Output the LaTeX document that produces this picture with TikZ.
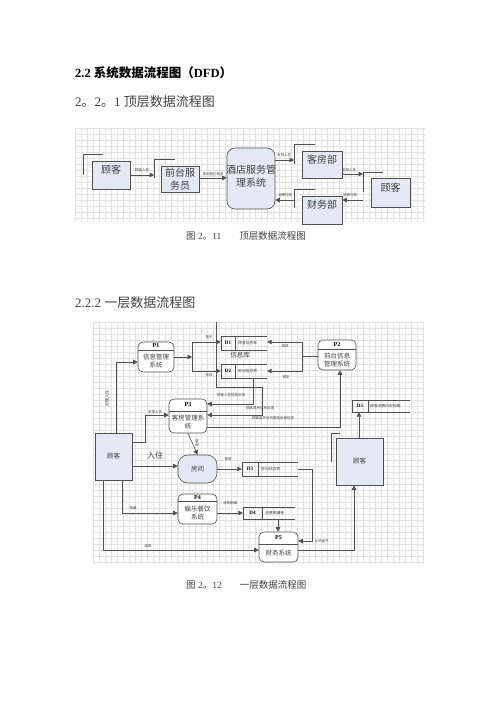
\documentclass[tikz,border=0pt]{standalone}
\usepackage{fontspec}
\setmainfont{Liberation Serif}
\newfontfamily\cjk{Noto Sans CJK SC}
\usetikzlibrary{arrows.meta,calc}
\definecolor{boxblue}{HTML}{E4E9F5}
\definecolor{gridc}{HTML}{E2E2E2}
\definecolor{linec}{HTML}{505050}
\definecolor{txtg}{HTML}{404040}
\begin{document}
\begin{tikzpicture}[x=1pt,y=-1pt,
 ent/.style={draw=linec, fill=boxblue, line width=0.6pt, inner sep=0pt, align=center},
 procbox/.style={draw=linec, fill=white, line width=0.6pt, rounded corners=5pt, inner sep=0pt},
 dsanchor/.style={inner sep=0pt, draw=none},
 ds/.style={draw=linec, line width=0.5pt},
 shadowl/.style={draw=linec, line width=0.6pt},
 flow/.style={draw=linec, line width=0.6pt, -{Triangle[length=4.5pt,width=4.5pt]}},
 tiny/.style={font=\cjk\fontsize{3.5}{4}\selectfont, text=txtg, inner sep=0.5pt},
 big/.style={font=\cjk\fontsize{10}{12.5}\selectfont, text=txtg, align=center, inner sep=0pt},
 mid/.style={font=\cjk\fontsize{6.5}{8}\selectfont, text=txtg, align=center, inner sep=0pt},
 pid/.style={font=\bfseries\fontsize{6}{7}\selectfont, inner sep=0pt},
 dsid/.style={font=\bfseries\fontsize{5}{6}\selectfont, inner sep=0pt},
 dstxt/.style={font=\cjk\fontsize{3.8}{4.5}\selectfont, text=txtg, inner sep=0pt, anchor=west}
]
\useasboundingbox (0,0) rectangle (496,702);
\fill[white] (0,0) rectangle (496,702);

% ---------- headings ----------
\node[anchor=west, inner sep=0pt, font=\bfseries\fontsize{12.5}{14}\selectfont] (h1) at (75,73) {2.2 {\cjk 系统数据流程图（}DFD{\cjk ）}};
\node[anchor=west, inner sep=0pt, font=\fontsize{13}{15}\selectfont, text=txtg] (h2) at (75,102) {2{\cjk 。}2{\cjk 。}1 {\cjk 顶层数据流程图}};
\node[anchor=west, inner sep=0pt, font=\fontsize{9.5}{11}\selectfont, text=txtg] (c1) at (186,236) {{\cjk 图} 2{\cjk 。}11\hspace{18pt}{\cjk 顶层数据流程图}};
\node[anchor=west, inner sep=0pt, font=\fontsize{13}{15}\selectfont, text=txtg] (h3) at (75,303) {2.2.2 {\cjk 一层数据流程图}};
\node[anchor=west, inner sep=0pt, font=\fontsize{9.5}{11}\selectfont, text=txtg] (c2) at (186,585) {{\cjk 图} 2{\cjk 。}12\hspace{18pt}{\cjk 一层数据流程图}};

% ---------- grids ----------
\foreach \x in {75,81,...,425} \draw[gridc, line width=0.3pt] (\x,128) -- (\x,222);
\foreach \y in {128,134,...,222} \draw[gridc, line width=0.3pt] (75,\y) -- (425,\y);
\foreach \x in {93,99,...,423} \draw[gridc, line width=0.3pt] (\x,322) -- (\x,564);
\foreach \y in {322,328,...,564} \draw[gridc, line width=0.3pt] (93,\y) -- (423,\y);

% ---------- top diagram ----------
\node[ent, minimum width=38pt, minimum height=28pt] (gk1) at (111,175) {};
\node[big] (gk1t) at (111,170) {顾客};
\node[ent, minimum width=38pt, minimum height=26pt] (qt) at (180,179) {};
\node[big] (qtt) at (180,179) {前台服\\务员};
\node[ent, rounded corners=8pt, minimum width=48pt, minimum height=61pt] (sys) at (251,178.5) {};
\node[big] (syst) at (251,176) {酒店服务管\\理系统};
\node[ent, minimum width=40pt, minimum height=27pt] (kf) at (322,164.5) {};
\node[big] (kft) at (322,160) {客房部};
\node[ent, minimum width=40pt, minimum height=28pt] (cw) at (322,210) {};
\node[big] (cwt) at (322,205) {财务部};
\node[ent, minimum width=39pt, minimum height=29pt] (gk2) at (390.5,192.5) {};
\node[big] (gk2t) at (390.5,188) {顾客};

% entity marker lines
\draw[shadowl] (103,154) -- (83,154) -- (83,175);
\draw[shadowl] (175,159) -- (154,159) -- (154,178);
\draw[shadowl] (315,144) -- (294,144) -- (294,164);
\draw[shadowl] (315,189) -- (294,189) -- (294,208);
\draw[shadowl] (383,172) -- (363,172) -- (363,192);

\coordinate (qtin) at (154,175);
\coordinate (kfin) at (294,160);
\coordinate (cwout) at (294,200);
\coordinate (gk2in) at (363,174);
\coordinate (gk2out) at (363,200);

\draw[flow] (gk1.east |- qtin) -- (qtin);
\node[tiny] (l1) at (142,170) {顾客入住};
\draw[flow] (qt.east |- 0,178) -- (sys.west |- 0,178);
\node[tiny] (l2) at (213,174) {查询登记信息};
\draw[flow] (sys.east |- kfin) -- (kfin);
\node[tiny] (l3) at (284,155) {安排入住};
\draw[flow] (kf.east |- gk2in) -- (gk2in);
\node[tiny] (l4) at (349,170) {安排入住};
\draw[flow] (gk2out) -- (cw.east |- gk2out);
\node[tiny] (l5) at (350,195) {消费付款};
\draw[flow] (cwout) -- (sys.east |- cwout);
\node[tiny] (l6) at (285,195) {消费付款};

% ---------- bottom diagram ----------
% process boxes
\node[procbox, minimum width=36pt, minimum height=30pt] (P1) at (156,357) {};
\draw[linec, line width=0.5pt] (138,350) -- (174,350);
\node[pid] (P1i) at (156,346) {P1};
\node[mid] (P1t) at (156,361) {信息管理\\系统};

\node[procbox, minimum width=38pt, minimum height=30pt] (P2) at (337,355) {};
\draw[linec, line width=0.5pt] (318,349) -- (356,349);
\node[pid] (P2i) at (337,344.5) {P2};
\node[mid] (P2t) at (337,360) {前台信息\\管理系统};

\node[procbox, minimum width=38pt, minimum height=34pt] (P3) at (188,416) {};
\draw[linec, line width=0.5pt] (169,411) -- (207,411);
\node[pid] (P3i) at (188,405) {P3};
\node[mid] (P3t) at (188,422) {客房管理系\\统};

\node[procbox, minimum width=39pt, minimum height=30pt] (P4) at (197.5,509) {};
\draw[linec, line width=0.5pt] (178,501) -- (217,501);
\node[pid] (P4i) at (197.5,497.5) {P4};
\node[mid] (P4t) at (197.5,513) {娱乐餐饮\\系统};

\node[procbox, minimum width=39pt, minimum height=30pt] (P5) at (278.5,547) {};
\draw[linec, line width=0.5pt] (259,544) -- (298,544);
\node[pid] (P5i) at (278.5,538) {P5};
\node[mid] (P5t) at (278.5,553) {财务系统};

\node[ent, rounded corners=10pt, minimum width=39pt, minimum height=28pt] (room) at (197.5,469) {};
\node[mid] (roomt) at (197.5,469) {房间};

\node[ent, minimum width=37pt, minimum height=47pt] (gkL) at (113.5,456.5) {};
\node[mid] (gkLt) at (113.5,456.5) {顾客};
\node[ent, minimum width=47pt, minimum height=47pt] (gkR) at (359.5,461.5) {};
\node[mid] (gkRt) at (359.5,461.5) {顾客};
\draw[shadowl] (340,433) -- (331,433) -- (331,462);

% data stores
\node[dsanchor, minimum width=46pt, minimum height=14pt] (D1) at (244,343) {};
\draw[ds] (267,336) -- (221,336) -- (221,350) -- (267,350) (235,336) -- (235,350);
\node[dsid] (D1i) at (228,343) {D1};
\node[dstxt] (D1t) at (238,343) {顾客信息单};

\node[dsanchor, minimum width=46pt, minimum height=14pt] (D2) at (244,371) {};
\draw[ds] (267,364) -- (221,364) -- (221,378) -- (267,378) (235,364) -- (235,378);
\node[dsid] (D2i) at (228,371) {D2};
\node[dstxt] (D2t) at (238,371) {房间信息表};

\node[mid, font=\cjk\fontsize{6.5}{8}\selectfont] (lib) at (240,355) {信息库};

\node[dsanchor, minimum width=56pt, minimum height=14pt] (D3) at (270,469) {};
\draw[ds] (298,462) -- (242,462) -- (242,476) -- (298,476) (258,462) -- (258,476);
\node[dsid] (D3i) at (250,469) {D3};
\node[dstxt] (D3t) at (261,469) {房间状态表};

\node[dsanchor, minimum width=52pt, minimum height=12pt] (D4) at (269,513) {};
\draw[ds] (295,507) -- (243,507) -- (243,519) -- (295,519) (262,507) -- (262,519);
\node[dsid] (D4i) at (252.5,513) {D4};
\node[dstxt] (D4t) at (265,513) {消费明细单};

\node[dsanchor, minimum width=58pt, minimum height=12pt] (D5) at (381,406) {};
\draw[ds] (410,400) -- (352,400) -- (352,412) -- (410,412) (368,400) -- (368,412);
\node[dsid] (D5i) at (360,406) {D5};
\node[dstxt] (D5t) at (370,406) {顾客消费历史档案};

% container of the information base
\draw[shadowl, line width=0.5pt] (216,322) -- (216,387) -- (262,387);

% flows
\draw[flow] (gkL.north -| 116,0) -- (116,362) -- (P1.west |- 0,362);
\node[tiny, rotate=90, font=\cjk\fontsize{4}{5}\selectfont] (lbz) at (107,398) {办理入住};

\coordinate (fk1) at (192,357);
\draw[flow] (P1.east |- fk1) -- (fk1);
\draw[flow] (192,342) -- (D1.west |- 0,342);
\draw[flow] (192,342) -- (192,371) -- (D2.west |- 0,371);
\node[tiny] (ldj) at (209,337) {登记};
\node[tiny] (lxg) at (209,375) {修改};

\coordinate (fk2) at (302,356);
\draw[linec, line width=0.6pt] (P2.west |- fk2) -- (fk2);
\draw[flow] (302,356) -- (302,342) -- (D1.east |- 0,342);
\draw[flow] (302,356) -- (302,371) -- (D2.east |- 0,371);
\node[tiny] (lxg2) at (285,346) {修改};
\node[tiny] (lyd) at (286,377) {预定};

\draw[flow] (253,378) -- (253,404) -- (P3.east |- 0,404);
\node[tiny] (lrz) at (231,395) {顾客入住信息反馈};
\draw[flow] (262,387) -- (262,415) -- (P3.east |- 0,415);
\node[tiny] (ltf) at (260,408) {顾客退房信息反馈};
\draw[flow] (P3.east |- 0,427) -- (340,427) -- (P2.south -| 340,0);
\node[tiny] (lgg) at (273,418) {顾客离开后的更改房源信息};

\draw[flow] (gkL.east |- 0,442) -- (145,442) -- (145,415) -- (P3.west |- 0,415);
\node[tiny] (lap) at (155,412) {安排入住};

\draw[flow] (P3.south) -- (room.north);
\node[tiny, align=center, font=\cjk\fontsize{3.5}{4}\selectfont] (lcx) at (197,443) {查\\询};

\draw[flow] (gkL.east |- 0,466) -- (room.west |- 0,466);
\node[mid, font=\cjk\fontsize{8}{9}\selectfont] (lrz2) at (155,455) {入住};

\draw[flow] (room.east |- 0,469) -- (D3.west);
\node[tiny] (ltf2) at (228,459) {退房};

\draw[flow] (D3.east) -- (312,469) -- (312,541) -- (P5.east |- 0,541);
\node[tiny, anchor=west] (lyx) at (314,541) {允许离开};

\draw[flow] (gkL.south -| 122,0) -- (122,513) -- (P4.west |- 0,513);
\node[tiny] (ljc) at (133,508) {就餐};

\draw[flow] (P4.east |- D4.west) -- (D4.west);
\node[tiny] (lmx) at (230,503) {消费明细};

\draw[flow] (D4.south -| 278,0) -- (P5.north -| 278,0);

\draw[flow] (gkL.south -| 103,0) -- (103,550) -- (P5.west |- 0,550);
\node[tiny] (ljz) at (148,546) {结账};

\draw[flow] (P5.east |- 0,550) -- (354,550) -- (gkR.south -| 354,0);
\draw[flow] (gkR.north -| 359,0) -- (D5.south -| 359,0);
\end{tikzpicture}
\end{document}
